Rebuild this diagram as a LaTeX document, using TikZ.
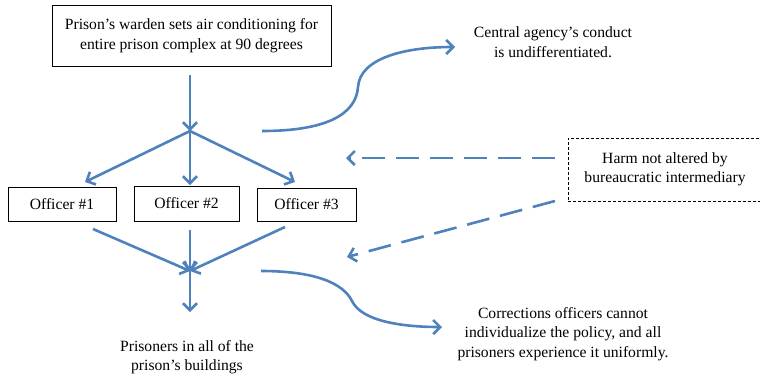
\documentclass[tikz,border=0pt]{standalone}
\usepackage{fontspec}
\setmainfont{Liberation Serif}
\usetikzlibrary{arrows.meta}
\definecolor{arrblue}{RGB}{79,129,189}
\begin{document}
\begin{tikzpicture}[x=1bp,y=-1bp,
  txt/.style={align=center,font=\fontsize{15.7}{19.5}\selectfont,inner sep=0pt},
  boxnode/.style={txt,draw=black,line width=0.9bp},
  arr/.style={draw=arrblue,line width=2.6bp,-{Straight Barb[length=7bp,width=14bp,line width=2.6bp]}},
  darr/.style={arr,dash pattern=on 23bp off 11bp}]
\useasboundingbox (0,0) rectangle (760,378);
\clip (0,0) rectangle (760,378);
% boxes
\node[boxnode,minimum width=279bp,minimum height=61bp] (warden) at (191.5,35.5) {Prison’s warden sets air conditioning for\\entire prison complex at 90 degrees};
\node[boxnode,minimum width=108bp,minimum height=34bp] (o1) at (62,204) {Officer \#1};
\node[boxnode,minimum width=105bp,minimum height=35bp] (o2) at (186.5,203.5) {Officer \#2};
\node[boxnode,minimum width=99bp,minimum height=33bp] (o3) at (306.5,204.5) {Officer \#3};
\node[boxnode,dash pattern=on 3bp off 2bp,minimum width=194bp,minimum height=63bp] (harm) at (665,169.5) {Harm not altered by\\bureaucratic intermediary};
% texts
\node[txt] (prisoners) at (187,357) {Prisoners in all of the\\prison’s buildings};
\node[txt] (central) at (553,42) {Central agency’s conduct\\is undifferentiated.};
\node[txt] (corr) at (563,334) {Corrections officers cannot\\individualize the policy, and all\\prisoners experience it uniformly.};
% coordinates
\coordinate (topstart) at (190,75);
\coordinate (split) at (190,131);
\coordinate (e1) at (85,182);
\coordinate (e2) at (190,185);
\coordinate (e3) at (295,182);
\coordinate (s1) at (93,229);
\coordinate (s2) at (190,230);
\coordinate (s3) at (285,227);
\coordinate (merge) at (190,271);
\coordinate (down) at (190,312);
\coordinate (c1s) at (262,131);
\coordinate (c1m) at (358,87);
\coordinate (c1e) at (455,47);
\coordinate (c2s) at (261,271);
\coordinate (c2m) at (352,301);
\coordinate (c2e) at (442,327);
\coordinate (d1s) at (555,158);
\coordinate (d1e) at (346,158);
\coordinate (d2s) at (555,201);
\coordinate (d2e) at (347,257);
% arrows
\draw[arr] (topstart) -- (split);
\draw[arr] (split) -- (e1);
\draw[arr] (split) -- (e2);
\draw[arr] (split) -- (e3);
\draw[arr] (s1) -- (merge);
\draw[arr] (s2) -- (merge);
\draw[arr] (s3) -- (merge);
\draw[arr] (merge) -- (down);
\draw[arr] (c1s) .. controls (325,131) and (356,115) .. (c1m) .. controls (360,58) and (405,47) .. (c1e);
\draw[arr] (c2s) .. controls (315,271) and (343,283) .. (c2m) .. controls (362,322) and (405,327) .. (c2e);
\draw[darr] (d1s) -- (d1e);
\draw[darr] (d2s) -- (d2e);
\end{tikzpicture}
\end{document}
